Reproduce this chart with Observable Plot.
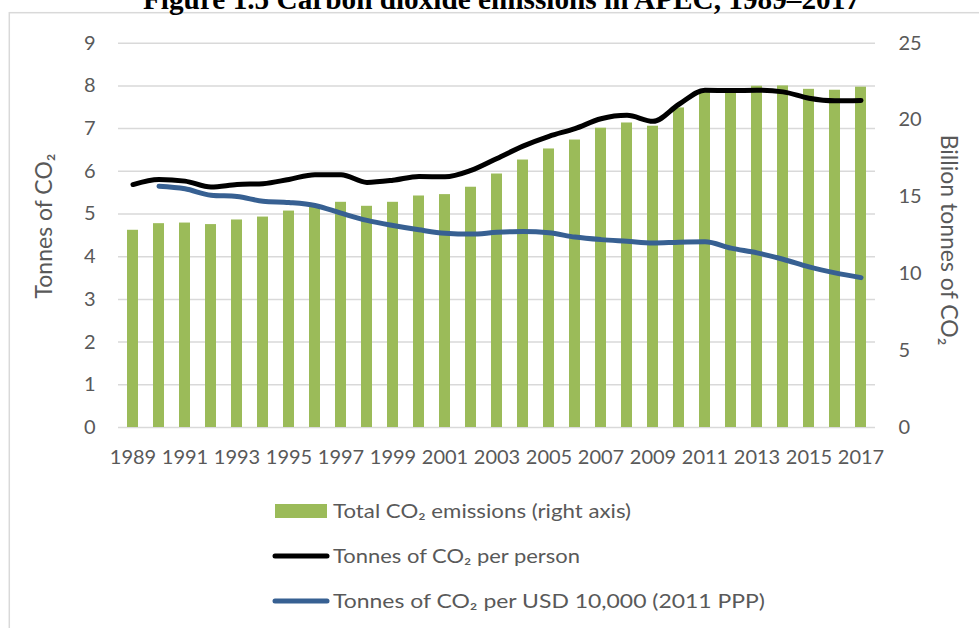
<!DOCTYPE html>
<html><head><meta charset="utf-8">
<script src="https://cdn.jsdelivr.net/npm/d3@7"></script>
<script src="https://cdn.jsdelivr.net/npm/@observablehq/plot@0.6"></script>
<style>
body{margin:0;background:#fff;}
#wrap{position:relative;width:979px;height:628px;overflow:hidden;font-family:Lato,sans-serif;}
#chart{position:absolute;left:0;top:0;}
#overlay{position:absolute;left:0;top:0;}
</style></head><body>
<div id="wrap"><div id="chart"></div><svg id="overlay" width="979" height="628"></svg></div>
<script>
const years = [1989,1990,1991,1992,1993,1994,1995,1996,1997,1998,1999,2000,2001,2002,2003,2004,2005,2006,2007,2008,2009,2010,2011,2012,2013,2014,2015,2016,2017];
// Total CO2 emissions, billion tonnes (right axis)
const totalEmissions = [12.83,13.26,13.30,13.20,13.50,13.69,14.08,14.32,14.65,14.39,14.65,15.06,15.15,15.63,16.49,17.40,18.12,18.70,19.47,19.81,19.60,20.79,21.98,21.92,22.20,22.22,22.00,21.94,22.14];
// Tonnes of CO2 per person (left axis)
const perPerson = [5.69,5.81,5.77,5.63,5.69,5.71,5.81,5.92,5.92,5.74,5.79,5.88,5.87,6.02,6.30,6.59,6.82,7.00,7.23,7.31,7.17,7.57,7.90,7.89,7.90,7.86,7.71,7.65,7.66];
// Tonnes of CO2 per USD 10,000 (2011 PPP) (left axis)
const perGDP = [null,5.65,5.59,5.44,5.41,5.30,5.27,5.20,5.02,4.85,4.73,4.63,4.55,4.53,4.57,4.59,4.56,4.46,4.40,4.36,4.32,4.34,4.35,4.20,4.09,3.94,3.76,3.62,3.51];
const xTickYears = [1989,1991,1993,1995,1997,1999,2001,2003,2005,2007,2009,2011,2013,2015,2017];
const leftTicks = [0,1,2,3,4,5,6,7,8,9];
const rightTicks = [0,5,10,15,20,25];
const legendLabels = ["Total CO\u2082 emissions (right axis)","Tonnes of CO\u2082 per person","Tonnes of CO\u2082 per USD 10,000 (2011 PPP)"];
const titleText = "Figure 1.5 Carbon dioxide emissions in APEC, 1989\u20132017";

const data = years.map((year,i)=>({year, total: totalEmissions[i], person: perPerson[i], gdp: perGDP[i]}));
const k = 9/25; // right axis (0-25) mapped onto left axis (0-9)

const chart = Plot.plot({
  width: 979, height: 480,
  marginLeft: 118, marginRight: 104, marginTop: 42.7, marginBottom: 53,
  style: {fontFamily: "Lato, sans-serif", fontSize: "20px", color: "#595959", background: "transparent"},
  x: {type: "band", domain: years, paddingInner: 0.58, paddingOuter: 0.29, axis: null},
  y: {domain: [0, 9], axis: null},
  marks: [
    Plot.gridY(leftTicks, {stroke: "#d9d9d9", strokeOpacity: 1, strokeWidth: 1.5}),
    Plot.barY(data, {x: "year", y: d => d.total * k, fill: "#9BBB59"}),
    Plot.line(data, {x: "year", y: "person", stroke: "#000", strokeWidth: 5, curve: "monotone-x"}),
    Plot.line(data.filter(d => d.gdp != null), {x: "year", y: "gdp", stroke: "#376092", strokeWidth: 5, curve: "monotone-x"}),
    Plot.axisX(xTickYears, {tickSize: 0, tickPadding: 22, tickFormat: d => String(d), fill: "#595959", label: null}),
    Plot.axisY(leftTicks, {anchor: "left", tickSize: 0, tickPadding: 23, fill: "#595959", label: null}),
    Plot.axisY(rightTicks.map(v => v * k), {anchor: "right", tickSize: 0, tickPadding: 23, fill: "#595959", tickFormat: d => String(Math.round(d / k)), label: null})
  ]
});
document.getElementById("chart").appendChild(chart);

const ov = d3.select("#overlay");
ov.append("rect").attr("x", 9.3).attr("y", 12.7).attr("width", 1200).attr("height", 1000)
  .attr("fill", "none").attr("stroke", "#d9d9d9").attr("stroke-width", 1.5);
ov.append("text").attr("x", 501.5).attr("y", 9).attr("text-anchor", "middle")
  .attr("font-family", "'Liberation Serif', serif").attr("font-weight", "bold").attr("font-size", 29)
  .attr("textLength", 717).attr("lengthAdjust", "spacingAndGlyphs").attr("fill", "#000").text(titleText);
ov.append("text").attr("transform", "translate(52,226) rotate(-90)").attr("text-anchor", "middle")
  .attr("font-family", "Lato, sans-serif").attr("font-size", 23).attr("fill", "#595959").text("Tonnes of CO\u2082");
ov.append("text").attr("transform", "translate(941,240) rotate(90)").attr("text-anchor", "middle")
  .attr("font-family", "Lato, sans-serif").attr("font-size", 23).attr("fill", "#595959").text("Billion tonnes of CO\u2082");

// legend
const lg = ov.append("g").attr("font-family", "Lato, sans-serif").attr("font-size", 19).attr("fill", "#595959");
lg.append("rect").attr("x", 275).attr("y", 504).attr("width", 52).attr("height", 14).attr("fill", "#9BBB59");
lg.append("line").attr("x1", 275).attr("x2", 327).attr("y1", 556).attr("y2", 556).attr("stroke", "#000").attr("stroke-width", 5).attr("stroke-linecap", "round");
lg.append("line").attr("x1", 275).attr("x2", 327).attr("y1", 601).attr("y2", 601).attr("stroke", "#376092").attr("stroke-width", 5).attr("stroke-linecap", "round");
const widths = [298, 247, 432];
[518, 563, 608].forEach((y, i) => {
  lg.append("text").attr("x", 333).attr("y", y).attr("textLength", widths[i]).attr("lengthAdjust", "spacingAndGlyphs").text(legendLabels[i]);
});
</script>
</body></html>
